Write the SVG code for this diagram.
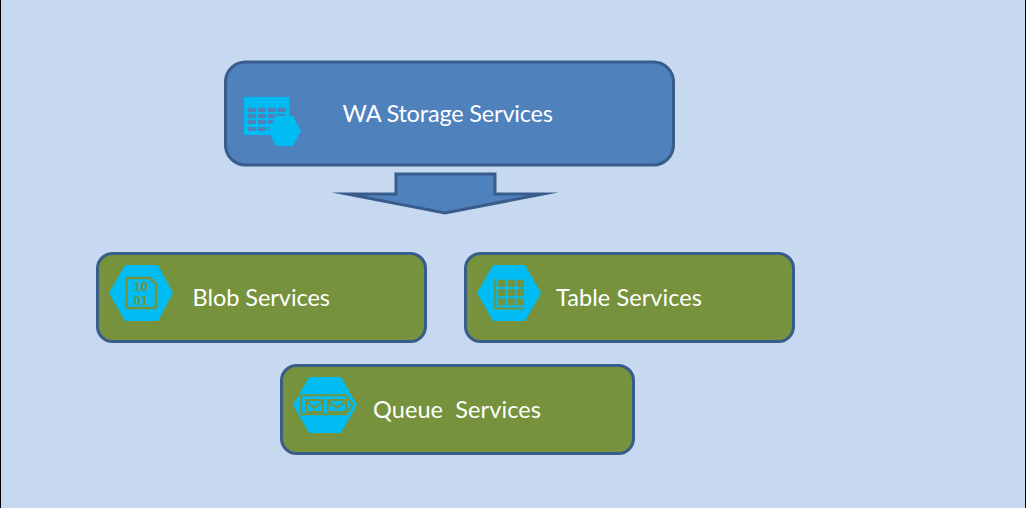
<svg xmlns="http://www.w3.org/2000/svg" width="1026" height="508" viewBox="0 0 1026 508">
<style>
.blue{fill:#4f81bd;stroke:#385d8a;stroke-width:3}
.green{fill:#76923c;stroke:#385d8a;stroke-width:3}
.t{font-family:"Lato","Open Sans",sans-serif;font-size:23.5px;fill:#fff}
.hex{fill:#00bcf2}
.ln{fill:none;stroke:#76923c;stroke-width:2}
.cell{fill:#76923c}
.dg{font-family:"Liberation Sans",sans-serif;font-size:13px;font-weight:bold;fill:#76923c;text-anchor:middle}
</style>
<rect width="1026" height="508" fill="#c6d9f1"/>
<rect x="0" y="0" width="1" height="508" fill="#000"/>
<rect x="1025" y="0" width="1" height="508" fill="#000"/>
<g id="connectors">
<path class="blue" stroke-miterlimit="30" d="M396 174H495V194H543L445 213L347 194H396Z"/>
</g>
<g id="storage">
<rect class="blue" x="225.500" y="62" width="448" height="103" rx="20"/>
<rect x="244" y="97" width="45.500" height="38" fill="#00bcf2"/>
<path fill="#4f81bd" d="M247.700 107.700h8.300v4.300h-8.300zM257.700 107.700h8.300v4.300h-8.300zM267.700 107.700h8.300v4.300h-8.300zM277.300 107.700h8.700v4.300h-8.700zM247.700 113.700h8.300v4.300h-8.300zM257.700 113.700h8.300v4.300h-8.300zM267.700 113.700h8.300v4.300h-8.300zM277.300 113.700h8.700v4.300h-8.700zM247.700 119.700h8.300v4.300h-8.300zM257.700 119.700h8.300v4.300h-8.300zM267.700 119.700h8.300v4.300h-8.300zM277.300 119.700h8.700v4.300h-8.700zM247.700 127h8.300v4h-8.300zM257.700 127h8.300v4h-8.300zM267.700 127h8.300v4h-8.300z"/>
<polygon class="hex" points="268,131 276,116 293,116 301,131 293,146 276,146"/>
<text class="t" x="342.500" y="122" textLength="210.500" lengthAdjust="spacing">WA Storage Services</text>
</g>
<g id="blob">
<rect class="green" x="97.500" y="253.500" width="328" height="88" rx="15"/>
<polygon class="hex" points="109,293 125,265 158,265 173,293 158,321 125,321"/>
<path class="ln" style="stroke-width:2.500" d="M128.500 278H150L156 284V306Q156 308 154 308H128.500Q126.500 308 126.500 306V280Q126.500 278 128.500 278Z"/>
<text class="dg" x="141" y="291">10</text>
<text class="dg" x="141" y="305">01</text>
<text class="t" x="192.500" y="306" textLength="137.500" lengthAdjust="spacing">Blob Services</text>
</g>
<g id="table">
<rect class="green" x="465.500" y="253.500" width="328" height="88" rx="15"/>
<polygon class="hex" points="477,293 493,265 525,265 541,293 525,321 493,321"/>
<path class="cell" d="M498.300 279.700h7v7.300h-7zM507.500 279.700h7.200v7.300h-7.200zM516.500 279.700h7.200v7.300h-7.200zM498.300 289h7v7.300h-7zM507.500 289h7.200v7.300h-7.200zM516.500 289h7.200v7.300h-7.200zM498.300 298.200h7v7.300h-7zM507.500 298.200h7.200v7.300h-7.200zM516.500 298.200h7.200v7.300h-7.200z"/>
<path class="ln" d="M495.200 279V308.500H524"/>
<text class="t" x="556" y="306" textLength="146" lengthAdjust="spacing">Table Services</text>
</g>
<g id="queue">
<rect class="green" x="281.500" y="365.500" width="352" height="88" rx="15"/>
<polygon class="hex" points="293,405 309,377 341,377 357,405 341,433 309,433"/>
<path class="ln" d="M301 395.300H346L352.500 404.800L346 414.300H301Z"/>
<path class="ln" d="M306 400H323V412H306ZM306 401L314.500 408L323 401M328 400H346V412H328ZM328 401L337 408L346 401"/>
<text class="t" x="373" y="418" xml:space="preserve" textLength="168" lengthAdjust="spacing">Queue  Services</text>
</g>
</svg>
